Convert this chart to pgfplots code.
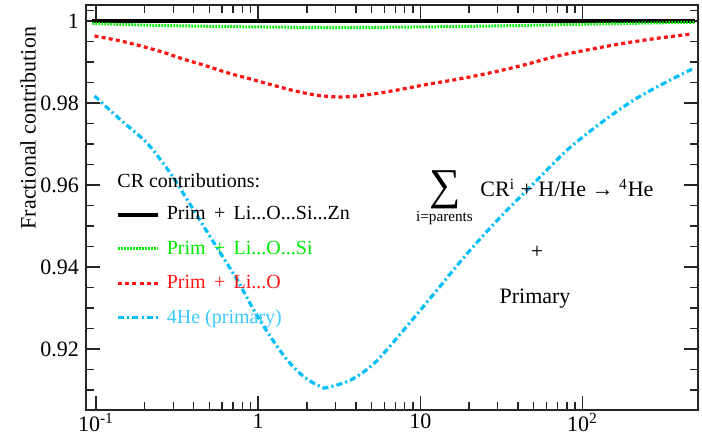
\documentclass[border=0pt]{standalone}
\usepackage{fontspec}
\setmainfont{Liberation Serif}
\usepackage{pgfplots}
\pgfplotsset{compat=1.18}
\definecolor{cgreen}{RGB}{0,235,0}
\definecolor{cred}{RGB}{255,20,20}
\definecolor{ccyan}{RGB}{0,190,250}
\definecolor{ccyantext}{RGB}{60,200,255}
\begin{document}
\begin{tikzpicture}
\begin{axis}[
  name=ax,
  scale only axis,
  width=306pt, height=202.5pt,
  xmode=log,
  xmin=0.0868, xmax=515,
  ymin=0.9051, ymax=1.0039,
  xtick={0.1,1,10,100},
  xticklabels={10\textsuperscript{-1},1,10,10\textsuperscript{2}},
  ytick={0.92,0.94,0.96,0.98,1},
  yticklabels={0.92,0.94,0.96,0.98,1},
  minor ytick={0.91,0.915,0.925,0.93,0.935,0.945,0.95,0.955,0.965,0.97,0.975,0.985,0.99,0.995,1.0025},
  tick align=inside,
  major tick length=7pt,
  minor tick length=4pt,
  axis line style={line width=0.8pt, black!85},
  every tick/.style={line width=0.7pt, black!85},
  tick label style={font=\fontsize{11}{13}\selectfont},
  xticklabel style={yshift=1.8pt},
  ylabel={Fractional contribution},
  ylabel style={font=\fontsize{11}{13}\selectfont, at={(axis description cs:-0.0948,0.696)}, anchor=center},
  legend style={at={(axis description cs:0.039,0.518)}, anchor=north west, draw=none, fill=none,
    font=\fontsize{10}{12}\selectfont, row sep=7pt, nodes={inner sep=1pt}},
  legend cell align=left,
  legend image code/.code={\draw[#1] (0pt,0pt) -- (20pt,0pt);},
]
\addplot[black, line width=1.8pt] coordinates {(0.095,1.0) (1,1.0) (10,1.0) (100,1.0) (495,1.0)};
\addlegendentry[text=black]{\hspace{2.5pt}Prim \,+\, Li...O...Si...Zn}
\addplot[cgreen, line width=1.5pt, dash pattern=on 0.9pt off 0.6pt, smooth] coordinates {
(0.095,0.9994) (0.2,0.9990) (0.5,0.9987) (1,0.99855) (3,0.9984) (10,0.99855) (30,0.9988) (100,0.9992) (300,0.99955) (495,0.9997)};
\addlegendentry[text=cgreen]{\hspace{2.5pt}Prim \,+\, Li...O...Si}
\addplot[cred, line width=1.6pt, dash pattern=on 2pt off 1.6pt, smooth] coordinates {
(0.098,0.99634) (0.139,0.99520) (0.189,0.99390) (0.260,0.99236) (0.349,0.99065) (0.474,0.98910) (0.644,0.98739) (0.897,0.98585) (1.22,0.98439) (1.66,0.98300) (2.31,0.98188) (3.21,0.98146) (4.47,0.98188) (6.7,0.98293) (10.5,0.98439) (16.9,0.98578) (27.2,0.98739) (43.5,0.98927) (69.9,0.99146) (112,0.99309) (179.5,0.99456) (288,0.99578) (473,0.99683)};
\addlegendentry[text=cred]{\hspace{2.5pt}Prim \,+\, Li...O}
\addplot[ccyan, line width=1.6pt, dash pattern=on 3pt off 1.6pt on 1pt off 1.6pt, smooth] coordinates {
(0.098,0.98171) (0.142,0.97585) (0.207,0.97017) (0.288,0.96285) (0.366,0.95634) (0.463,0.94983) (0.586,0.94334) (0.743,0.93683) (0.94,0.92951) (1.19,0.92300) (1.51,0.91732) (1.91,0.91324) (2.42,0.91080) (2.68,0.91060) (3.73,0.91244) (5.2,0.91650) (7.59,0.92382) (12.2,0.93358) (19.5,0.94334) (31.3,0.95227) (50.1,0.96041) (80.5,0.96854) (129,0.97505) (207,0.98073) (332,0.98520) (484,0.98846)};
\addlegendentry[text=ccyantext]{\hspace{2.5pt}4He (primary)}
\node[anchor=base west, font=\fontsize{10}{12}\selectfont, inner sep=0pt] at (axis description cs:0.0507,0.5506) {CR contributions:};
\node[anchor=center, font=\fontsize{22}{22}\selectfont, inner sep=0pt] at (axis description cs:0.5866,0.545) {∑};
\node[anchor=center, font=\fontsize{7.6}{9}\selectfont, inner sep=0pt] at (axis description cs:0.5858,0.474) {i=parents};
\node[anchor=base west, font=\fontsize{11}{13}\selectfont, inner sep=0pt] at (axis description cs:0.6438,0.526) {CR\textsuperscript{i} + H/He → \textsuperscript{4}He};
\node[anchor=center, font=\fontsize{11}{13}\selectfont, inner sep=0pt] at (axis description cs:0.737,0.390) {+};
\node[anchor=base, font=\fontsize{11}{13}\selectfont, inner sep=0pt] at (axis description cs:0.7337,0.264) {Primary};
\end{axis}
\pgfresetboundingbox
\path[use as bounding box] ([xshift=-43pt,yshift=-12.5pt]ax.south west) rectangle ([xshift=2pt,yshift=2.5pt]ax.north east);
\end{tikzpicture}
\end{document}
